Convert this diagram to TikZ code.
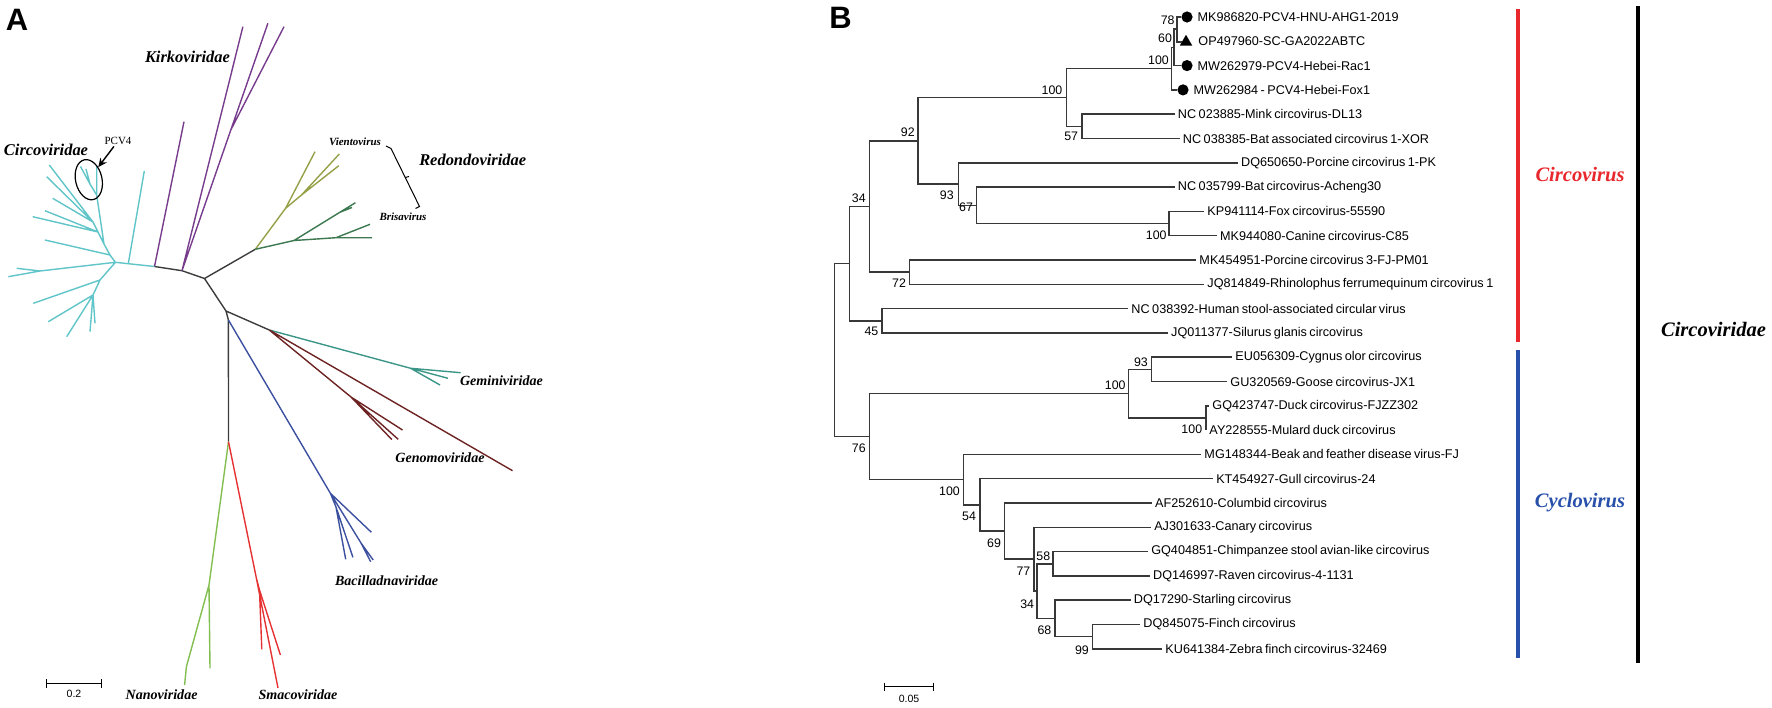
\documentclass[tikz,border=0pt]{standalone}
\usepackage{fontspec}
\setmainfont{Liberation Serif}
\setsansfont{Liberation Sans}
\newfontfamily\leaffont[WordSpace=0.7]{Liberation Sans}
\usetikzlibrary{positioning,shapes.geometric,arrows.meta}

\definecolor{cyanbr}{RGB}{95,197,200}
\definecolor{purplebr}{RGB}{120,60,140}
\definecolor{darkbr}{RGB}{60,60,60}
\definecolor{olivebr}{RGB}{150,160,70}
\definecolor{greenbr}{RGB}{60,120,80}
\definecolor{tealbr}{RGB}{60,150,135}
\definecolor{brownbr}{RGB}{110,35,35}
\definecolor{bluebr}{RGB}{60,80,160}
\definecolor{nanobr}{RGB}{130,190,80}
\definecolor{smacobr}{RGB}{230,50,50}
\definecolor{cladered}{RGB}{232,40,45}
\definecolor{cladeblue}{RGB}{40,80,170}

\tikzset{
x=0.25mm, y=-0.25mm, % one unit is one pixel of the figure, y runs down
branch/.style={line width=0.35mm}, % tree branches
treeline/.style={line width=0.36mm, black!78}, % branches of the rooted tree
panel/.style={font=\sffamily\bfseries\fontsize{22}{24}\selectfont}, % A and B
family/.style={font=\bfseries\itshape\fontsize{11.7}{13}\selectfont}, % large family names
smallfam/.style={font=\bfseries\itshape\fontsize{10}{11}\selectfont}, % smaller family names
genus/.style={font=\bfseries\itshape\fontsize{7.8}{9}\selectfont}, % genera in Redondoviridae
clade/.style={font=\bfseries\itshape\fontsize{14.6}{16}\selectfont}, % labels beside the bars
leaf/.style={anchor=west, inner xsep=0.8mm, inner ysep=0.3mm, font=\leaffont\fontsize{9}{10}\selectfont}, % taxa
boot/.style={inner sep=0pt, font=\sffamily\fontsize{8.8}{9}\selectfont}, % bootstrap values
scalelab/.style={inner sep=0pt, font=\sffamily\fontsize{7.5}{8}\selectfont}, % scale bar values
pdot/.style={circle, fill, inner sep=0pt, minimum size=2.8mm}, % PCV4 reference strains
ptri/.style={regular polygon, regular polygon sides=3, fill, inner sep=0pt, minimum size=3.6mm}, % strain of this study
bar/.style={line width=1mm}, % clade bars
}

\begin{document}
\begin{tikzpicture}
\useasboundingbox (0,0) rectangle (1772,708);

%%%%%%%%%%%%%%%% panel A
\node[panel] (pa) at (17,20) {A};

% backbone
\coordinate (c0) at (115.4,262.3);
\coordinate (cb) at (128.3,263.7);
\coordinate (k1) at (154.5,266.5);
\coordinate (k2) at (182,270.7);
\coordinate (d1) at (204.5,278.5);
\coordinate (r0) at (255.3,249.3);
\coordinate (d2) at (226,311);
\coordinate (g0) at (269.3,330);
\coordinate (d3) at (228.4,320);
\coordinate (s0) at (228.5,441.7);
\draw[branch, darkbr] (k1) -- (k2) -- (d1) -- (r0) (d1) -- (d2) -- (g0) (d2) -- (d3) -- (s0);

% Circoviridae
\coordinate (ct0) at (144.3,171);
\coordinate (ca) at (110,255);
\coordinate (cc) at (104,244);
\coordinate (cd) at (98,232);
\coordinate (ce) at (93,222);
\coordinate (ct1) at (49.3,165);
\coordinate (ct2) at (46.7,176.7);
\coordinate (ct3) at (52.7,198.3);
\coordinate (ct4) at (45,210.7);
\coordinate (ct5) at (32.7,216.7);
\coordinate (ct6) at (45,240);
\coordinate (pc0) at (96.7,195);
\coordinate (pcs) at (90,184);
\coordinate (pct1) at (96.7,166);
\coordinate (pct2) at (86,169);
\coordinate (pct3) at (80.5,166.5);
\coordinate (cl1) at (40,271);
\coordinate (clt1) at (8.3,276.7);
\coordinate (clt2) at (16.7,268.3);
\coordinate (cm) at (100,280);
\coordinate (cmt) at (33.3,303.3);
\coordinate (cn) at (93,295);
\coordinate (cnt1) at (48.3,321.7);
\coordinate (cnt2) at (66.7,336.7);
\coordinate (cnt3) at (95,323.3);
\coordinate (cnt4) at (90,331.7);
\draw[branch, cyanbr]
(c0) -- (cb) -- (k1) (cb) -- (ct0)
(c0) -- (ca) -- (ct6) (ca) -- (cc) -- (pc0) -- (pct1) (pc0) -- (pcs) -- (pct2) (pcs) -- (pct3)
(cc) -- (cd) -- (ct5) (cd) -- (ct4) (cd) -- (ce) -- (ct3) (ce) -- (ct2) (ce) -- (ct1)
(c0) -- (cl1) -- (clt1) (cl1) -- (clt2)
(c0) -- (cm) -- (cmt) (cm) -- (cn) -- (cnt1) (cn) -- (cnt2) (cn) -- (cnt3) (cn) -- (cnt4);

% Kirkoviridae
\coordinate (ks) at (230.8,130);
\coordinate (kt1) at (184,121.7);
\coordinate (kt2) at (242.9,26.7);
\coordinate (kt3) at (267.9,23.3);
\coordinate (kt4) at (284,26.7);
\draw[branch, purplebr] (k1) -- (kt1) (k2) -- (kt2) (k2) -- (ks) -- (kt3) (ks) -- (kt4);

% Redondoviridae
\coordinate (v1) at (285.6,208.3);
\coordinate (v2) at (301.5,195);
\coordinate (vt1) at (315,151.7);
\coordinate (vt2) at (339.3,154);
\coordinate (vt3) at (338.8,165.7);
\draw[branch, olivebr] (r0) -- (v1) -- (vt1) (v1) -- (v2) -- (vt2) (v2) -- (vt3);
\coordinate (br1) at (294,240.5);
\coordinate (bs) at (340,212.2);
\coordinate (br2) at (336,237.7);
\coordinate (bt1) at (355.4,202.7);
\coordinate (bt1b) at (352,207.5);
\coordinate (bt2) at (370,224.3);
\coordinate (bt3) at (372,237.7);
\draw[branch, greenbr] (r0) -- (br1) -- (bs) -- (bt1) (bs) -- (bt1b) (br1) -- (br2) -- (bt2) (br2) -- (bt3);

% Geminiviridae and Genomoviridae
\coordinate (ge1) at (410.7,368.3);
\coordinate (get1) at (460.7,372.7);
\coordinate (get2) at (448,378.3);
\coordinate (get3) at (440,385);
\draw[branch, tealbr] (g0) -- (ge1) -- (get1) (ge1) -- (get2) (ge1) -- (get3);
\coordinate (gn2) at (351,397);
\coordinate (gnt1) at (512.5,470.7);
\coordinate (gnt2) at (402.5,430);
\coordinate (gnt3) at (398.2,439.3);
\coordinate (gnt4) at (391.8,439.5);
\draw[branch, brownbr] (g0) -- (gnt1) (g0) -- (gn2) -- (gnt2) (gn2) -- (gnt3) (gn2) -- (gnt4);

% Bacilladnaviridae
\coordinate (b1) at (330.4,493.3);
\coordinate (bs1) at (336,507);
\coordinate (bs2) at (361,543);
\coordinate (bat1) at (371.4,532.3);
\coordinate (bat2) at (345.7,559.3);
\coordinate (bat3) at (352.9,557.3);
\coordinate (bat4) at (370.7,561.7);
\coordinate (bat5) at (373.2,560);
\draw[branch, bluebr] (d3) -- (b1) -- (bat1) (b1) -- (bs1) -- (bat2) (bs1) -- (bat3) (b1) -- (bs2) -- (bat4) (bs2) -- (bat5);

% Nanoviridae and Smacoviridae
\coordinate (n1) at (209,585);
\coordinate (n2) at (186.4,666.7);
\coordinate (nt1) at (210,668.3);
\coordinate (nt2) at (184.6,685);
\draw[branch, nanobr] (s0) -- (n1) -- (nt1) (n1) -- (n2) -- (nt2);
\coordinate (sm1) at (256.4,578.3);
\coordinate (sm2) at (259.5,590);
\coordinate (smt1) at (278,688);
\coordinate (smt2) at (261.8,649.3);
\coordinate (smt3) at (280.4,655);
\draw[branch, smacobr] (s0) -- (sm1) -- (smt1) (sm1) -- (sm2) -- (smt2) (sm2) -- (smt3);

% family names
\node[family] (kirko) at (187.5,57) {Kirkoviridae};
\node[family] (circo) at (46,150) {Circoviridae};
\node[family] (redon) at (472.7,160) {Redondoviridae};
\node[genus] (vien) at (355,142) {Vientovirus};
\node[genus] (bris) at (403,216.7) {Brisavirus};
\node[smallfam] (gemin) at (501.4,380.7) {Geminiviridae};
\node[smallfam] (genom) at (440,457.3) {Genomoviridae};
\node[smallfam] (bacil) at (386.6,581) {Bacilladnaviridae};
\node[smallfam] (nano) at (161.6,695) {Nanoviridae};
\node[smallfam] (smaco) at (298,695) {Smacoviridae};

% bracket of the two genera
\coordinate (brt) at (391,148.5);
\coordinate (brm) at (405.3,177.5);
\coordinate (brb) at (419.5,206.5);
\draw[line width=0.25mm] (386,146) -- (brt) -- (brb) -- (415.5,208.5) (brm) -- (409,176.5);

% PCV4 mark
\node[draw, line width=0.3mm, ellipse, minimum width=6.6mm, minimum height=10.2mm, rotate=13] (pcv) at (88.8,179.7) {};
\node[inner sep=1pt, font=\fontsize{7.8}{9}\selectfont] (pcvlab) at (118,141) {PCV4};
\draw[line width=0.35mm, -{Stealth[length=2.2mm, width=2mm]}] (pcvlab) -- (pcv);

% scale bar
\coordinate (sa1) at (46.4,683.3);
\coordinate (sa2) at (101.8,683.3);
\draw[line width=0.3mm] (sa1) -- (sa2) (46.4,679) -- (46.4,687.6) (101.8,679) -- (101.8,687.6);
\node[scalelab] (sal) at (74,694) {0.2};

%%%%%%%%%%%%%%%% panel B
\node[panel] (pb) at (840.5,18.3) {B};

% internal nodes
\coordinate (root) at (834.7,350.2);
\coordinate (na) at (849.3,263.6);
\coordinate (nb) at (869.5,206.5);
\coordinate (n92) at (918,140.8);
\coordinate (n100a) at (1066.6,97.5);
\coordinate (n100p) at (1171.5,68.6);
\coordinate (n60) at (1174,47.4);
\coordinate (n78) at (1177,29.2);
\coordinate (n57) at (1082,126.4);
\coordinate (n93) at (958.3,184.1);
\coordinate (n67) at (976.3,205.3);
\coordinate (n100c) at (1168.8,223.6);
\coordinate (n72) at (909.7,272.2);
\coordinate (n45) at (881.8,320.8);
\coordinate (n76) at (869.5,436.7);
\coordinate (n100d) at (1128.6,393.7);
\coordinate (n93b) at (1151.6,369.4);
\coordinate (n100f) at (1206,418);
\coordinate (n100e) at (963.3,479.7);
\coordinate (n54) at (980,504.9);
\coordinate (n69) at (1004.3,531.1);
\coordinate (n77) at (1034,559.2);
\coordinate (n34b) at (1036.8,591.1);
\coordinate (n58) at (1053,563.8);
\coordinate (n68) at (1055,618.4);
\coordinate (n99) at (1092.3,636.7);

% taxa
\node[pdot] (s0) at (1187,17) {};
\node[ptri] (s1) at (1186,42) {};
\node[pdot] (s2) at (1187,65.6) {};
\node[pdot] (s3) at (1183,89.9) {};
\node[leaf, right=0.3mm of s0] (l0) {MK986820-PCV4-HNU-AHG1-2019};
\node[leaf, anchor=west] (l1) at (1195,41.3) {OP497960-SC-GA2022ABTC};
\node[leaf, right=0.3mm of s2] (l2) {MW262979-PCV4-Hebei-Rac1};
\node[leaf, right=0.3mm of s3] (l3) {MW262984 - PCV4-Hebei-Fox1};
\node[leaf] (l4) at (1174.5,114.2) {NC 023885-Mink circovirus-DL13};
\node[leaf] (l5) at (1179.5,138.5) {NC 038385-Bat associated circovirus 1-XOR};
\node[leaf] (l6) at (1237.7,162.8) {DQ650650-Porcine circovirus 1-PK};
\node[leaf] (l7) at (1174.5,187.1) {NC 035799-Bat circovirus-Acheng30};
\node[leaf] (l8) at (1204,211.4) {KP941114-Fox circovirus-55590};
\node[leaf] (l9) at (1216.6,235.7) {MK944080-Canine circovirus-C85};
\node[leaf] (l10) at (1196,260) {MK454951-Porcine circovirus 3-FJ-PM01};
\node[leaf] (l11) at (1204,284.3) {JQ814849-Rhinolophus ferrumequinum circovirus 1};
\node[leaf] (l12) at (1128,308.6) {NC 038392-Human stool-associated circular virus};
\node[leaf] (l13) at (1167.7,332.9) {JQ011377-Silurus glanis circovirus};
\node[leaf] (l14) at (1232,357.2) {EU056309-Cygnus olor circovirus};
\node[leaf] (l15) at (1227,381.5) {GU320569-Goose circovirus-JX1};
\node[leaf] (l16) at (1209,405.8) {GQ423747-Duck circovirus-FJZZ302};
\node[leaf] (l17) at (1206,430.1) {AY228555-Mulard duck circovirus};
\node[leaf] (l18) at (1201,454.4) {MG148344-Beak and feather disease virus-FJ};
\node[leaf] (l19) at (1212.8,478.7) {KT454927-Gull circovirus-24};
\node[leaf] (l20) at (1151.6,503) {AF252610-Columbid circovirus};
\node[leaf] (l21) at (1150.8,527.3) {AJ301633-Canary circovirus};
\node[leaf] (l22) at (1147.8,551.6) {GQ404851-Chimpanzee stool avian-like circovirus};
\node[leaf] (l23) at (1149.7,575.9) {DQ146997-Raven circovirus-4-1131};
\node[leaf] (l24) at (1130.5,600.2) {DQ17290-Starling circovirus};
\node[leaf] (l25) at (1140,624.5) {DQ845075-Finch circovirus};
\node[leaf] (l26) at (1162,648.8) {KU641384-Zebra finch circovirus-32469};

% branches
\draw[treeline]
(root) |- (na) (root) |- (n76)
(na) |- (nb) (na) |- (n45)
(nb) |- (n92) (nb) |- (n72)
(n92) |- (n100a) (n92) |- (n93)
(n100a) |- (n100p) (n100a) |- (n57)
(n100p) |- (n60) (n100p) |- (s3)
(n60) |- (n78) (n60) |- (s2)
(n78) |- (s0) (n78) |- (s1)
(n57) |- (l4) (n57) |- (l5)
(n93) |- (l6) (n93) |- (n67)
(n67) |- (l7) (n67) |- (n100c)
(n100c) |- (l8) (n100c) |- (l9)
(n72) |- (l10) (n72) |- (l11)
(n45) |- (l12) (n45) |- (l13)
(n76) |- (n100d) (n76) |- (n100e)
(n100d) |- (n93b) (n100d) |- (n100f)
(n93b) |- (l14) (n93b) |- (l15)
(n100f) |- (l16) (n100f) |- (l17)
(n100e) |- (l18) (n100e) |- (n54)
(n54) |- (l19) (n54) |- (n69)
(n69) |- (l20) (n69) |- (n77)
(n77) |- (l21) (n77) |- (n34b)
(n34b) |- (n58) (n34b) |- (n68)
(n58) |- (l22) (n58) |- (l23)
(n68) |- (l24) (n68) |- (n99)
(n99) |- (l25) (n99) |- (l26);

% bootstrap values
\node[boot] at (1167.7,20) {78};
\node[boot] at (1165,38.3) {60};
\node[boot] at (1158.5,60) {100};
\node[boot] at (1052,90) {100};
\node[boot] at (1071.2,136.7) {57};
\node[boot] at (907.8,132.7) {92};
\node[boot] at (946.8,195) {93};
\node[boot] at (966,207.3) {67};
\node[boot] at (858.8,198.3) {34};
\node[boot] at (1156.2,235) {100};
\node[boot] at (899,283.3) {72};
\node[boot] at (871.4,331.7) {45};
\node[boot] at (1140.9,362.3) {93};
\node[boot] at (1115.2,385.7) {100};
\node[boot] at (1191.8,429) {100};
\node[boot] at (858.8,448.3) {76};
\node[boot] at (949.5,491.7) {100};
\node[boot] at (969,516.7) {54};
\node[boot] at (994,543.3) {69};
\node[boot] at (1043.3,556.7) {58};
\node[boot] at (1023.4,571.7) {77};
\node[boot] at (1027.2,604) {34};
\node[boot] at (1044.4,630.7) {68};
\node[boot] at (1081.9,650) {99};

% scale bar
\coordinate (sb1) at (884.8,686.7);
\coordinate (sb2) at (933.4,686.7);
\draw[line width=0.3mm] (sb1) -- (sb2) (884.8,682.5) -- (884.8,691) (933.4,682.5) -- (933.4,691);
\node[scalelab] (sbl) at (909,698.5) {0.05};

% clade bars
\coordinate (rt) at (1518,9.4);
\coordinate (rb) at (1518,342);
\coordinate (bt) at (1518,350);
\coordinate (bb) at (1518,658);
\coordinate (kt) at (1638,5.8);
\coordinate (kb) at (1638,662.5);
\draw[bar, cladered] (rt) -- (rb);
\draw[bar, cladeblue] (bt) -- (bb);
\draw[bar, black] (kt) -- (kb);
\node[clade, text=cladered] (circv) at (1580,174.5) {Circovirus};
\node[clade, text=cladeblue] (cyclv) at (1580,503) {Cyclovirus};
\node[clade] (circf) at (1713.5,329.7) {Circoviridae};
\end{tikzpicture}
\end{document}
